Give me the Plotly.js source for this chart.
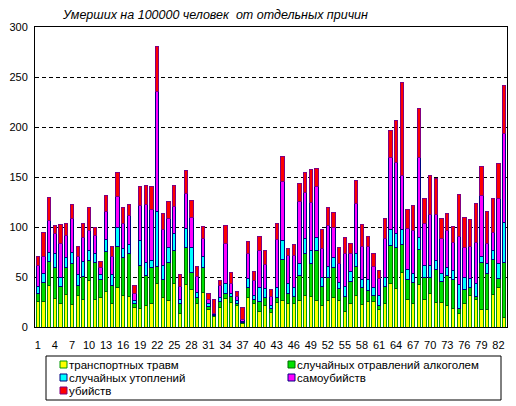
<!DOCTYPE html>
<html>
<head>
<meta charset="utf-8">
<script src="https://cdn.plot.ly/plotly-3.0.1.min.js"></script>
<style>html,body{margin:0;padding:0;background:#fff;}#chart{width:516px;height:406px;}</style>
</head>
<body>
<div id="chart"></div>
<script>
// Region index 1..83
const regions = Array.from({length: 83}, (_, i) => i + 1);

const transport = [26,26,42,29,24,33,23,32,28,47,28,30,36,24,40,32,31,20,19,22,24,44,30,27,44,14,43,38,24,35,18,11,20,29,25,22,4,30,24,16,22,15,25,27,24,24,27,32,31,27,22,27,30,27,16,24,32,23,26,26,18,24,44,39,55,28,24,43,28,34,25,25,22,19,14,24,32,28,18,18,33,40,10];
const alcohol   = [8,19,24,31,17,27,41,10,23,20,37,18,40,18,41,38,43,4,43,30,36,17,18,38,33,10,37,17,6,25,3,1,6,5,6,2,1,10,4,10,8,4,5,41,10,7,25,42,33,50,19,23,30,12,15,22,29,17,11,6,4,17,38,41,28,20,21,35,22,16,33,21,30,29,5,14,8,3,47,36,35,9,55];
const drowning  = [7,9,9,14,9,10,11,11,15,10,9,5,12,11,19,9,9,3,25,13,7,55,14,15,17,4,19,25,5,11,3,1,4,10,3,3,1,9,4,14,9,3,10,19,10,9,12,15,13,13,9,11,10,6,10,10,13,8,11,8,10,9,16,14,15,10,9,12,12,12,9,8,8,9,24,12,9,13,6,10,9,15,40];
const suicide   = [21,17,32,20,34,22,34,18,24,20,18,7,28,18,31,25,29,7,35,58,51,120,36,29,27,13,35,30,16,18,4,1,12,40,10,4,2,25,15,37,24,9,48,59,28,32,62,46,48,51,29,41,30,19,33,18,50,33,33,21,17,39,72,71,54,41,43,80,42,51,46,35,37,28,48,30,32,41,61,20,18,65,89];
const homicide  = [9,24,23,8,19,12,14,10,14,23,8,6,16,10,24,16,11,8,19,19,23,45,16,17,21,12,23,17,10,12,6,14,5,18,11,5,12,12,9,14,14,7,16,25,7,11,18,20,33,18,19,18,15,16,16,10,23,22,10,13,8,20,27,42,93,19,25,49,25,39,36,20,17,16,42,30,27,39,29,32,34,35,48];

const seriesNames = ['транспортных травм','случайных отравлений алкоголем','случайных утоплений','самоубийств','убийств'];
const seriesFill  = ['#FFFF00','#00E000','#00FFFF','#FF00FF','#FF0000'];
const seriesEdge  = ['#009900','#006600','#000080','#000080','#800080'];

const tickVals = regions.filter(v => (v - 1) % 3 === 0);
const tickText = tickVals.map(String);

const allSeries = [transport, alcohol, drowning, suicide, homicide];
const traces = allSeries.map((vals, k) => ({
  type: 'bar',
  x: regions,
  y: vals,
  name: seriesNames[k],
  marker: {color: seriesFill[k], line: {color: seriesEdge[k], width: 1}},
  hoverinfo: 'x+y+name'
}));

// Plot frame in pixels
const L = 35, R = 507, T = 27, B = 327;
const px = v => (v - L) / (R - L);
const py = v => (B - v) / (B - T);

const shapes = [{type:'rect', xref:'paper', yref:'paper', x0:px(46), x1:px(501), y0:py(400), y1:py(356), line:{color:'#000', width:1}, fillcolor:'rgba(0,0,0,0)'}];
const annotations = [];
const legPos = [[60,364.5],[288,364.5],[60,377.5],[288,377.5],[60,390.5]];
legPos.forEach((p, k) => {
  shapes.push({type:'rect', xref:'paper', yref:'paper', x0:px(p[0]), x1:px(p[0]+7), y0:py(p[1]+3.5), y1:py(p[1]-3.5), fillcolor: seriesFill[k], line:{color: seriesEdge[k], width:1}});
  annotations.push({xref:'paper', yref:'paper', x:px(p[0]+8), y:py(p[1]), xanchor:'left', yanchor:'middle', showarrow:false, borderpad:0, text: seriesNames[k], font:{family:'Liberation Sans, Arial, sans-serif', size:11.5, color:'#000'}});
});

const layout = {
  width: 516, height: 406,
  margin: {l: L, r: 516 - R, t: T, b: 406 - B, pad: 0},
  paper_bgcolor: '#fff', plot_bgcolor: '#fff',
  barmode: 'stack', bargap: 0.42,
  showlegend: false,
  font: {family: 'Liberation Sans, Arial, sans-serif', size: 11, color: '#000'},
  title: {text: 'Умерших на 100000 человек  от отдельных причин', x: 63/516, xanchor: 'left', xref: 'container', y: 1 - 15/406, yref: 'container', yanchor: 'middle',
          font: {family: 'Liberation Sans, Arial, sans-serif', size: 12.5, style: 'italic', color: '#000'}},
  xaxis: {type: 'linear', range: [0.5, 83.5], tickvals: tickVals, ticktext: tickText, ticks: '', showgrid: false, zeroline: false,
          showline: true, mirror: true, linecolor: '#000', linewidth: 1, ticklabelstandoff: 8, tickfont: {size: 11}},
  yaxis: {range: [0, 300], tickvals: [0,50,100,150,200,250,300], ticks: '', showgrid: true, gridcolor: '#000', gridwidth: 1, griddash: '4px,3px',
          zeroline: false, showline: true, mirror: true, linecolor: '#000', linewidth: 1, ticklabelstandoff: 4, tickfont: {size: 11}},
  shapes: shapes,
  annotations: annotations
};

Plotly.newPlot('chart', traces, layout, {displayModeBar: false, staticPlot: true});
</script>
</body>
</html>
